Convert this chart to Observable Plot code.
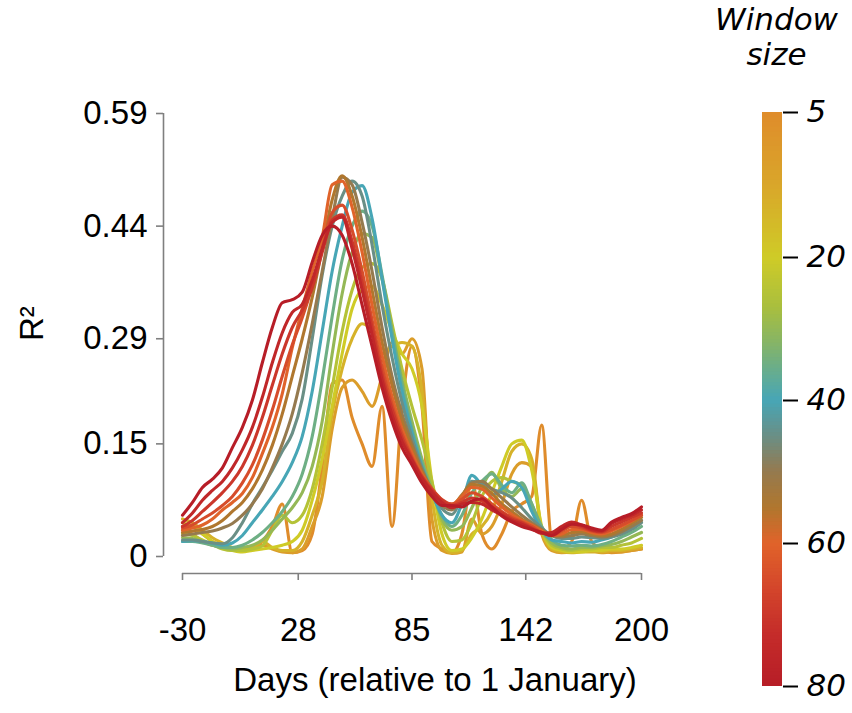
<!DOCTYPE html>
<html>
<head>
<meta charset="utf-8">
<script src="https://cdn.jsdelivr.net/npm/d3@7"></script>
<script src="https://cdn.jsdelivr.net/npm/@observablehq/plot@0.6"></script>
<style>
  html, body { margin: 0; padding: 0; background: #ffffff; }
  #chart { position: relative; width: 852px; height: 713px; overflow: hidden; background: #fff; }
  #chart > svg { position: absolute; top: 0; }
</style>
</head>
<body>
<div id="chart"></div>
<script>
// ---- Data ----
const days = [-30,-25,-20,-15,-10,-5,0,5,10,15,20,25,30,35,40,45,50,55,60,65,70,75,80,85,90,95,100,105,110,115,120,125,130,135,140,145,150,155,160,165,170,175,180,185,190,195,200];
const windowSizes = [5,10,15,20,25,30,35,40,45,50,55,60,65,70,75,80];

const w5 = [.035,.03,.02,.015,.012,.01,.008,.01,.02,.04, .07,.005,.008,.03,.12,.23,.235,.185,.15,.12, .2,.04,.2,.28,.2,.02,.01,.005,.03,.1, .03,.01,.03,.06,.07,.08,.175,.02,.01,.02, .075,.02,.01,.005,.006,.008,.01];
const w10 = [.04,.04,.03,.02,.015,.01,.01,.012,.015,.01, .006,.005,.01,.04,.08,.17,.225,.235,.22,.2, .24,.285,.27,.29,.25,.05,.008,.004,.006,.05, .03,.04,.07,.11,.125,.12,.03,.008,.005,.006, .01,.008,.005,.006,.006,.008,.01];
const w15 = [.05,.045,.035,.025,.018,.012,.01,.012,.02,.012, .008,.008,.02,.055,.1,.19,.25,.29,.31,.3, .27,.28,.285,.28,.22,.08,.015,.005,.008,.03, .04,.06,.1,.14,.15,.13,.035,.01,.006,.005, .006,.006,.006,.008,.008,.01,.012];
const w20 = [.045,.04,.03,.02,.012,.008,.006,.008,.01,.012, .015,.02,.035,.075,.13,.2,.27,.33,.355,.36, .335,.3,.27,.25,.2,.1,.03,.008,.01,.025, .05,.085,.12,.15,.155,.115,.04,.012,.008,.006, .006,.008,.008,.01,.01,.012,.015];
const w25 = [.03,.028,.022,.016,.01,.008,.008,.01,.014,.035, .055,.045,.055,.09,.15,.225,.3,.355,.385,.39, .37,.31,.25,.2,.155,.1,.045,.02,.022,.045, .08,.1,.105,.1,.095,.07,.035,.015,.01,.008, .01,.01,.012,.012,.015,.018,.024];
const w30 = [.025,.024,.02,.016,.012,.01,.012,.015,.022,.035, .05,.065,.085,.12,.18,.27,.35,.405,.43,.425, .37,.3,.235,.18,.13,.09,.05,.035,.04,.065, .092,.112,.09,.08,.09,.065,.035,.018,.012,.01, .012,.012,.014,.016,.02,.026,.032];
const w35 = [.02,.02,.018,.015,.012,.012,.015,.022,.032,.045, .06,.08,.11,.16,.235,.32,.395,.44,.46,.44, .375,.3,.23,.17,.125,.085,.055,.04,.055,.085, .1,.11,.095,.085,.098,.07,.04,.022,.015,.014, .015,.014,.016,.02,.026,.032,.04];
const w40 = [.02,.021,.02,.018,.015,.018,.028,.045,.062,.08, .1,.125,.16,.22,.3,.38,.44,.485,.494,.45, .37,.29,.22,.165,.12,.085,.055,.045,.07,.108, .095,.082,.09,.1,.092,.06,.035,.022,.02,.018, .02,.019,.022,.026,.032,.04,.048];
const w45 = [.022,.022,.02,.018,.017,.025,.045,.07,.092,.115, .14,.164,.21,.29,.375,.44,.48,.5,.48,.415, .335,.265,.205,.158,.118,.087,.064,.056,.078,.1, .098,.09,.085,.078,.065,.05,.038,.028,.024,.024, .026,.025,.024,.026,.03,.036,.045];
const w50 = [.028,.03,.032,.034,.038,.044,.055,.07,.09,.118, .15,.19,.245,.31,.38,.45,.505,.495,.445,.38, .305,.24,.19,.15,.115,.088,.068,.062,.08,.098, .1,.09,.078,.066,.055,.045,.036,.028,.026,.028, .03,.028,.026,.028,.033,.04,.048];
const w55 = [.032,.034,.036,.04,.048,.06,.072,.09,.115,.148, .19,.24,.29,.345,.41,.475,.507,.48,.425,.355, .285,.228,.18,.145,.113,.09,.074,.068,.082,.096, .094,.084,.07,.06,.05,.042,.035,.028,.028,.032, .033,.03,.028,.03,.036,.044,.052];
const w60 = [.035,.038,.042,.05,.062,.072,.084,.105,.137,.172, .217,.278,.33,.38,.425,.495,.5,.465,.405,.335, .268,.213,.17,.138,.11,.09,.075,.07,.08,.092, .09,.078,.066,.056,.048,.042,.034,.028,.03,.036, .036,.032,.03,.034,.04,.047,.055];
const w65 = [.038,.042,.05,.058,.068,.08,.098,.122,.155,.195, .24,.282,.318,.36,.41,.458,.468,.435,.38,.315, .252,.202,.163,.132,.107,.09,.076,.07,.076,.085, .08,.07,.06,.052,.046,.04,.032,.028,.034,.04, .038,.034,.032,.036,.042,.048,.055];
const w70 = [.04,.048,.06,.072,.085,.1,.12,.148,.185,.228, .27,.305,.328,.358,.405,.448,.455,.42,.365,.305, .242,.196,.158,.13,.106,.088,.075,.068,.072,.078, .074,.066,.058,.05,.045,.038,.032,.03,.038,.044, .04,.035,.033,.04,.046,.052,.058];
const w75 = [.045,.058,.075,.088,.1,.118,.142,.172,.212,.258, .298,.325,.336,.368,.41,.445,.452,.41,.355,.295, .235,.188,.153,.128,.104,.086,.072,.065,.07,.072, .07,.062,.055,.048,.043,.037,.031,.032,.04,.046, .042,.036,.034,.044,.05,.055,.062];
const w80 = [.055,.072,.092,.103,.118,.145,.172,.208,.258,.305, .338,.342,.352,.392,.428,.44,.428,.39,.335,.28, .225,.18,.145,.122,.098,.08,.068,.068,.066,.074, .077,.066,.054,.046,.04,.036,.032,.028,.036,.043, .042,.038,.035,.046,.052,.057,.066];

const seriesValues = [w5,w10,w15,w20,w25,w30,w35,w40,w45,w50,w55,w60,w65,w70,w75,w80];

const xTicks = [-30, 28, 85, 142, 200];
const yTicks = [0, 0.15, 0.29, 0.44, 0.59];
const legendTicks = [5, 20, 40, 60, 80];
const xTitle = "Days (relative to 1 January)";
const yTitle = "R²";
const legendTitle = "Window\nsize";

// colour ramp of the window-size bar
const colorDomain = [5, 12.5, 20, 27, 32, 40, 45, 50, 55, 60, 67, 73, 80];
const colorRange = ["#df8c2b","#d9a62a","#cfcb27","#a9bf3e","#86b466","#47a6b6","#6a8f86","#957a4f","#b0772e","#e0632a","#d2432b","#c42b2a","#b71d27"];

// ---- Build table ----
const rows = [];
windowSizes.forEach((w, k) => {
  seriesValues[k].forEach((v, i) => rows.push({day: days[i], r2: v, w}));
});

const colorScale = {type: "linear", domain: colorDomain, range: colorRange, interpolate: "rgb"};

const main = Plot.plot({
  width: 852,
  height: 713,
  marginLeft: 182,
  marginRight: 211,
  marginTop: 113,
  marginBottom: 157,
  style: {fontFamily: "'Liberation Sans', Arial, Helvetica, sans-serif", fontSize: "33px", background: "transparent", color: "#000"},
  x: {domain: [-30, 200]},
  y: {domain: [0, 0.59]},
  color: colorScale,
  marks: [
    Plot.line(rows, {x: "day", y: "r2", z: "w", stroke: "w", strokeWidth: 3.1, curve: "monotone-x", strokeLinejoin: "round"}),
    Plot.ruleX([-30], {y1: 0, y2: 0.59, dx: -19, stroke: "#7f7f7f", strokeWidth: 1.6}),
    Plot.axisY(yTicks, {tickSize: 7, tickPadding: 9, dx: -19, stroke: "#7f7f7f", strokeWidth: 1.6, label: null,
      tickFormat: d => d === 0 ? "0" : d.toFixed(2)}),
    Plot.ruleY([0], {x1: -30, x2: 200, dy: 17, stroke: "#7f7f7f", strokeWidth: 1.6}),
    Plot.axisX(xTicks, {tickSize: 7, tickPadding: 37, dy: 17, stroke: "#7f7f7f", strokeWidth: 1.6, label: null,
      tickFormat: d => String(d)}),
    Plot.text([yTitle], {text: d => d, frameAnchor: "left", dx: -150, dy: 6, rotate: -90, fontSize: 33}),
    Plot.text([xTitle], {text: d => d, frameAnchor: "bottom", dy: 134, dx: 23, fontSize: 33})
  ]
});
main.style.left = "0px";

const legendSteps = d3.range(5, 80, 0.5);
const legend = Plot.plot({
  width: 152,
  height: 713,
  marginLeft: 62,
  marginRight: 70,
  marginTop: 113,
  marginBottom: 27,
  style: {fontFamily: "'DejaVu Sans', Verdana, sans-serif", fontStyle: "italic", fontSize: "31px", background: "transparent", color: "#000"},
  x: {domain: [0, 1], axis: null},
  y: {type: "linear", domain: [5, 20, 80], range: [112, 257, 686], axis: null},
  color: colorScale,
  marks: [
    Plot.rect(legendSteps, {x1: 0, x2: 1, y1: d => d, y2: d => Math.min(80, d + 0.8), fill: d => d + 0.25}),
    Plot.axisY(legendTicks, {anchor: "right", tickSize: 15, tickPadding: 9, stroke: "#000", strokeWidth: 2, label: null, fontStyle: "italic"}),
    Plot.text([legendTitle], {text: d => d, frameAnchor: "top", dy: -109, dx: 4, lineAnchor: "top", lineHeight: 1.15, fontSize: 31})
  ]
});
legend.style.left = "700px";

const chart = document.getElementById("chart");
chart.appendChild(main);
chart.appendChild(legend);
</script>
</body>
</html>
